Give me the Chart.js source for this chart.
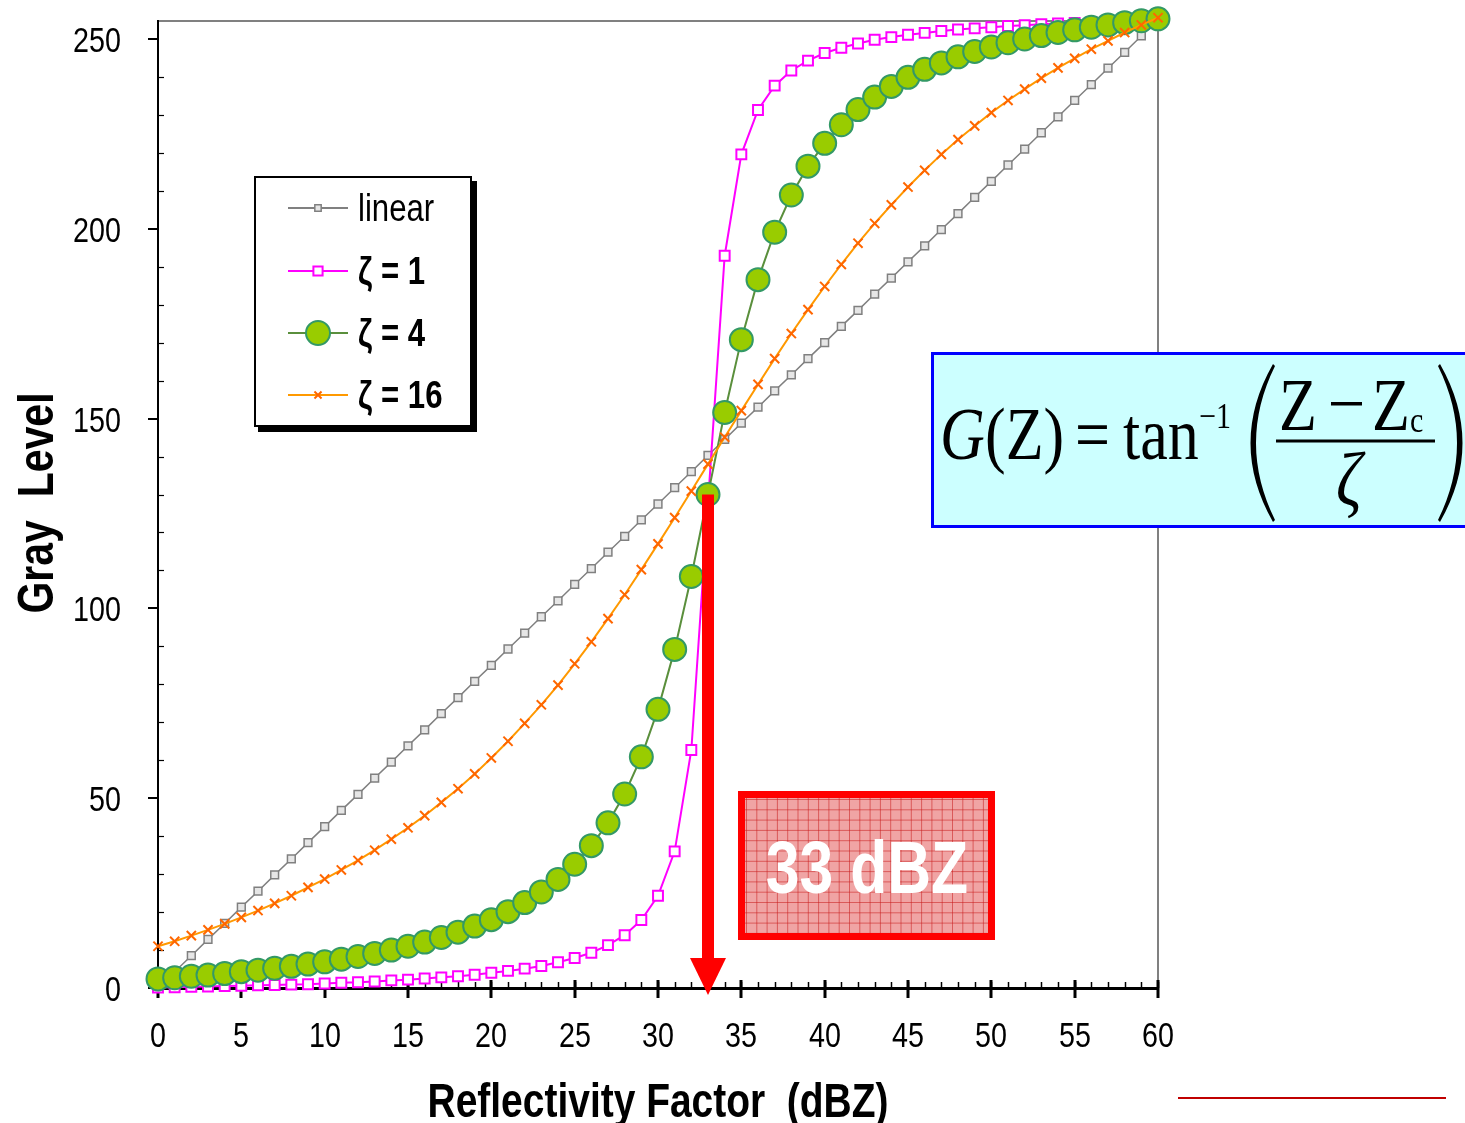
<!DOCTYPE html>
<html>
<head>
<meta charset="utf-8">
<script src="https://cdn.jsdelivr.net/npm/chart.js@4.4.1/dist/chart.umd.min.js"></script>
<style>
  html, body { margin: 0; padding: 0; background: #fff; }
  #wrap { width: 1465px; height: 1123px; }
</style>
</head>
<body>
<div id="wrap"><canvas id="chart" width="1465" height="1123"></canvas></div>
<script>
const zValues = [0, 1, 2, 3, 4, 5, 6, 7, 8, 9, 10, 11, 12, 13, 14, 15, 16, 17, 18, 19, 20,
  21, 22, 23, 24, 25, 26, 27, 28, 29, 30, 31, 32, 33, 34, 35, 36, 37, 38, 39, 40,
  41, 42, 43, 44, 45, 46, 47, 48, 49, 50, 51, 52, 53, 54, 55, 56, 57, 58, 59, 60];

const linearGray = [0, 4.3, 8.5, 12.8, 17, 21.3, 25.5, 29.8, 34, 38.3, 42.5, 46.8, 51, 55.3, 59.5,
  63.8, 68, 72.3, 76.5, 80.8, 85, 89.3, 93.5, 97.8, 102, 106.3, 110.5, 114.8, 119, 123.3, 127.5,
  131.8, 136, 140.3, 144.5, 148.8, 153, 157.3, 161.5, 165.8, 170, 174.3, 178.5, 182.8, 187, 191.3,
  195.5, 199.8, 204, 208.3, 212.5, 216.8, 221, 225.3, 229.5, 233.8, 238, 242.3, 246.5, 250.8, 255];

const zeta1Gray = [0.1, 0.2, 0.3, 0.4, 0.5, 0.6, 0.7, 0.8, 0.9, 1.0, 1.2, 1.4, 1.5, 1.7, 2.0, 2.2,
  2.5, 2.8, 3.1, 3.5, 4.0, 4.5, 5.1, 5.8, 6.8, 7.9, 9.3, 11.3, 13.9, 17.9, 24.3, 36.0, 62.7, 127.8,
  192.9, 219.6, 231.3, 237.7, 241.7, 244.3, 246.3, 247.7, 248.8, 249.8, 250.5, 251.1, 251.6, 252.1,
  252.5, 252.8, 253.1, 253.4, 253.6, 253.9, 254.1, 254.2, 254.4, 254.5, 254.7, 254.8, 254.9];

const zeta4Gray = [2.4, 2.7, 3.1, 3.4, 3.8, 4.3, 4.7, 5.2, 5.7, 6.3, 6.9, 7.6, 8.3, 9.1, 10.0, 11.0,
  12.1, 13.3, 14.7, 16.3, 18.0, 20.1, 22.5, 25.3, 28.6, 32.6, 37.5, 43.5, 51.1, 60.9, 73.4, 89.2,
  108.4, 130, 151.6, 170.8, 186.6, 199.1, 208.9, 216.5, 222.5, 227.4, 231.4, 234.7, 237.5, 239.9,
  242.0, 243.7, 245.3, 246.7, 247.9, 249.0, 250.0, 250.9, 251.7, 252.4, 253.1, 253.7, 254.3, 254.8, 255.3];

const zeta16Gray = [11.0, 12.3, 13.8, 15.3, 16.9, 18.6, 20.4, 22.3, 24.3, 26.5, 28.7, 31.1, 33.6,
  36.3, 39.2, 42.2, 45.4, 48.9, 52.5, 56.4, 60.6, 65.0, 69.7, 74.6, 79.8, 85.4, 91.2, 97.3, 103.6,
  110.2, 117.0, 123.9, 130.9, 138.0, 145.1, 152.1, 159.0, 165.8, 172.4, 178.7, 184.8, 190.6, 196.2,
  201.4, 206.3, 211.0, 215.4, 219.6, 223.5, 227.1, 230.6, 233.8, 236.8, 239.7, 242.4, 244.9, 247.3,
  249.5, 251.7, 253.7, 255.6];

const seriesNames = ['linear', 'ζ = 1', 'ζ = 4', 'ζ = 16'];
const xTicks = [0, 5, 10, 15, 20, 25, 30, 35, 40, 45, 50, 55, 60];
const yTicks = [0, 50, 100, 150, 200, 250];
const yMinorTicks = [10, 20, 30, 40, 60, 70, 80, 90, 110, 120, 130, 140, 160, 170, 180, 190, 210, 220, 230, 240];
const xTitle = 'Reflectivity Factor  (dBZ)';
const yTitle = 'Gray  Level';
const markerZ = 33;

const SANS = "'Liberation Sans', Arial, sans-serif";
const SERIF = "'Liberation Serif', 'Times New Roman', serif";

const pts = arr => zValues.map((z, i) => ({ x: z, y: arr[i] }));

const styles = [
  { line: '#808080', width: 1.5, style: 'rect', r: 5.5, fill: '#e6e6e6', edge: '#808080', edgeW: 1.5, order: 4 },
  { line: '#ff00ff', width: 2, style: 'rect', r: 7, fill: '#ffffff', edge: '#ff00ff', edgeW: 2, order: 3 },
  { line: '#5a8f3c', width: 2, style: 'circle', r: 11.5, fill: '#99cc00', edge: '#339966', edgeW: 2, order: 2 },
  { line: '#ff9900', width: 2, style: 'crossRot', r: 6.5, fill: '#ff6600', edge: '#ff6600', edgeW: 2, order: 1 }
];
const seriesData = [linearGray, zeta1Gray, zeta4Gray, zeta16Gray];

// narrow sans text: Liberation Sans squeezed horizontally (no Arial Narrow here)
function narrow(ctx, s, x, y, size, weight, align, color, rot) {
  ctx.save();
  ctx.translate(x, y);
  if (rot) ctx.rotate(rot);
  ctx.scale(0.82, 1);
  ctx.font = weight + ' ' + size + 'px ' + SANS;
  ctx.textAlign = align;
  ctx.textBaseline = 'alphabetic';
  ctx.fillStyle = color;
  ctx.fillText(s, 0, 0);
  ctx.restore();
}

function drawMarker(ctx, s, cx, cy, r) {
  ctx.save();
  ctx.lineWidth = s.edgeW;
  ctx.strokeStyle = s.edge;
  ctx.fillStyle = s.fill;
  ctx.beginPath();
  if (s.style === 'circle') {
    ctx.arc(cx, cy, r, 0, Math.PI * 2);
    ctx.fill(); ctx.stroke();
  } else if (s.style === 'rect') {
    const h = r * Math.SQRT1_2;
    ctx.rect(cx - h, cy - h, 2 * h, 2 * h);
    ctx.fill(); ctx.stroke();
  } else {
    const h = r * Math.SQRT1_2;
    ctx.moveTo(cx - h, cy - h); ctx.lineTo(cx + h, cy + h);
    ctx.moveTo(cx + h, cy - h); ctx.lineTo(cx - h, cy + h);
    ctx.stroke();
  }
  ctx.restore();
}

const frame = {
  id: 'frame',
  beforeDatasetsDraw(chart) {
    const { ctx, chartArea: a, scales: { x, y } } = chart;
    ctx.save();
    // top and right plot border
    ctx.strokeStyle = '#808080';
    ctx.lineWidth = 2;
    ctx.beginPath();
    ctx.moveTo(a.left, a.top + 1);
    ctx.lineTo(a.right, a.top + 1);
    ctx.lineTo(a.right, a.bottom);
    ctx.stroke();

    // axes
    ctx.strokeStyle = '#000';
    ctx.lineWidth = 2;
    ctx.beginPath(); ctx.moveTo(a.left, a.top); ctx.lineTo(a.left, a.bottom); ctx.stroke();
    ctx.lineWidth = 3;
    ctx.beginPath(); ctx.moveTo(a.left - 1, a.bottom + 0.5); ctx.lineTo(a.right + 1, a.bottom + 0.5); ctx.stroke();

    // x minor ticks (inward)
    ctx.lineWidth = 1.5;
    zValues.forEach(v => {
      const px = Math.round(x.getPixelForValue(v)) + 0.5;
      ctx.beginPath(); ctx.moveTo(px, a.bottom - 6); ctx.lineTo(px, a.bottom); ctx.stroke();
    });
    // x major ticks and labels
    ctx.lineWidth = 3;
    xTicks.forEach(v => {
      const px = Math.round(x.getPixelForValue(v));
      ctx.beginPath(); ctx.moveTo(px, a.bottom - 8); ctx.lineTo(px, a.bottom + 10); ctx.stroke();
      narrow(ctx, String(v), px, a.bottom + 59, 35, 'normal', 'center', '#000');
    });
    // y major ticks (outward) and labels
    ctx.lineWidth = 2;
    yTicks.forEach(v => {
      const py = Math.round(y.getPixelForValue(v));
      ctx.beginPath(); ctx.moveTo(a.left - 10, py); ctx.lineTo(a.left, py); ctx.stroke();
      narrow(ctx, String(v), a.left - 37, py + 13, 35, 'normal', 'right', '#000');
    });
    // y minor ticks (inward)
    ctx.lineWidth = 1.2;
    yMinorTicks.forEach(v => {
      const py = Math.round(y.getPixelForValue(v)) + 0.5;
      ctx.beginPath(); ctx.moveTo(a.left, py); ctx.lineTo(a.left + 6, py); ctx.stroke();
    });

    // axis titles
    narrow(ctx, xTitle, 658, a.bottom + 129, 47.5, 'bold', 'center', '#000');
    narrow(ctx, yTitle, 53, 503, 50, 'bold', 'center', '#000', -Math.PI / 2);
    ctx.restore();
  },
  afterDatasetsDraw(chart) {
    const { ctx, scales: { x, y } } = chart;
    ctx.save();

    // legend box with shadow
    ctx.fillStyle = '#000';
    ctx.fillRect(258, 181, 219, 251);
    ctx.fillStyle = '#fff';
    ctx.fillRect(254, 176, 218, 251);
    ctx.strokeStyle = '#000';
    ctx.lineWidth = 2;
    ctx.strokeRect(255, 177, 216, 249);
    const rows = [208, 271, 333, 395];
    const legendR = [4.5, 6.5, 12, 5];
    seriesNames.forEach((name, i) => {
      const s = styles[i];
      ctx.strokeStyle = s.line;
      ctx.lineWidth = 2;
      ctx.beginPath(); ctx.moveTo(288, rows[i]); ctx.lineTo(348, rows[i]); ctx.stroke();
      drawMarker(ctx, s, 318, rows[i], legendR[i]);
      narrow(ctx, name, 358, rows[i] + 13, 38, i === 0 ? 'normal' : 'bold', 'left', '#000');
    });

    // arrow at the centre reflectivity
    const ax = x.getPixelForValue(markerZ);
    const aTop = y.getPixelForValue(zeta4Gray[markerZ]);
    const y0 = y.getPixelForValue(0);
    ctx.fillStyle = '#ff0000';
    ctx.fillRect(ax - 6, aTop, 12, y0 - 28 - aTop);
    ctx.beginPath();
    ctx.moveTo(ax - 18, y0 - 30);
    ctx.lineTo(ax + 18, y0 - 30);
    ctx.lineTo(ax, y0 + 7);
    ctx.closePath();
    ctx.fill();

    // "33 dBZ" label box
    ctx.fillStyle = '#f0a4a4';
    ctx.fillRect(741, 794, 251, 143);
    ctx.strokeStyle = 'rgba(200, 30, 30, 0.55)';
    ctx.lineWidth = 1;
    ctx.beginPath();
    for (let gx = 746.5; gx < 992; gx += 10.3) { ctx.moveTo(gx, 794); ctx.lineTo(gx, 937); }
    for (let gy = 799.5; gy < 937; gy += 10.3) { ctx.moveTo(741, gy); ctx.lineTo(992, gy); }
    ctx.stroke();
    ctx.strokeStyle = '#ff0000';
    ctx.lineWidth = 7;
    ctx.strokeRect(741.5, 794.5, 250, 142);
    narrow(ctx, markerZ + ' dBZ', 867, 893, 74, 'bold', 'center', '#fff');

    // formula box
    ctx.fillStyle = '#ccffff';
    ctx.fillRect(931, 352, 540, 176);
    ctx.strokeStyle = '#0000ff';
    ctx.lineWidth = 3;
    ctx.strokeRect(932.5, 353.5, 540, 173);
    ctx.fillStyle = '#000';
    ctx.textAlign = 'left';
    ctx.textBaseline = 'alphabetic';
    const txt = (s, px, py, size, italic) => {
      ctx.save();
      ctx.translate(px, py);
      ctx.scale(1, 1.2);
      ctx.font = (italic ? 'italic ' : '') + size + 'px ' + SERIF;
      ctx.fillText(s, 0, 0);
      ctx.restore();
    };
    txt('G', 940, 459, 62, true);
    txt('(Z)', 985, 459, 62, false);
    txt('=', 1075, 459, 62, false);
    txt('tan', 1123, 459, 62, false);
    txt('−1', 1199, 428, 30, false);
    txt('Z', 1279, 430, 62, false);
    ctx.fillRect(1331, 402, 31, 3.5);
    txt('Z', 1372, 430, 62, false);
    txt('c', 1410, 432, 30, false);
    ctx.fillRect(1276, 439.5, 159, 3);
    txt('ζ', 1336, 505, 64, true);
    // tall parentheses
    ctx.beginPath();
    ctx.moveTo(1273, 364); ctx.quadraticCurveTo(1228, 443, 1273, 522);
    ctx.lineTo(1275, 520); ctx.quadraticCurveTo(1237, 443, 1275, 366);
    ctx.closePath(); ctx.fill();
    ctx.beginPath();
    ctx.moveTo(1440, 364); ctx.quadraticCurveTo(1485, 443, 1440, 522);
    ctx.lineTo(1438, 520); ctx.quadraticCurveTo(1476, 443, 1438, 366);
    ctx.closePath(); ctx.fill();

    // dark red rule at bottom right
    ctx.fillStyle = '#c00000';
    ctx.fillRect(1178, 1097, 268, 2);
    ctx.restore();
  }
};

new Chart(document.getElementById('chart'), {
  type: 'line',
  data: {
    datasets: seriesNames.map((name, i) => ({
      label: name,
      data: pts(seriesData[i]),
      borderColor: styles[i].line,
      borderWidth: styles[i].width,
      pointStyle: styles[i].style,
      pointRadius: styles[i].r,
      pointBackgroundColor: styles[i].fill,
      pointBorderColor: styles[i].edge,
      pointBorderWidth: styles[i].edgeW,
      tension: 0,
      clip: false,
      order: styles[i].order
    }))
  },
  options: {
    responsive: false,
    animation: false,
    devicePixelRatio: 1,
    layout: { padding: { top: 20, right: 307, bottom: 135, left: 158 } },
    plugins: { legend: { display: false }, tooltip: { enabled: false } },
    scales: {
      x: { type: 'linear', min: 0, max: 60, display: false },
      y: { type: 'linear', min: 0, max: 255, display: false }
    }
  },
  plugins: [frame]
});
</script>
</body>
</html>
